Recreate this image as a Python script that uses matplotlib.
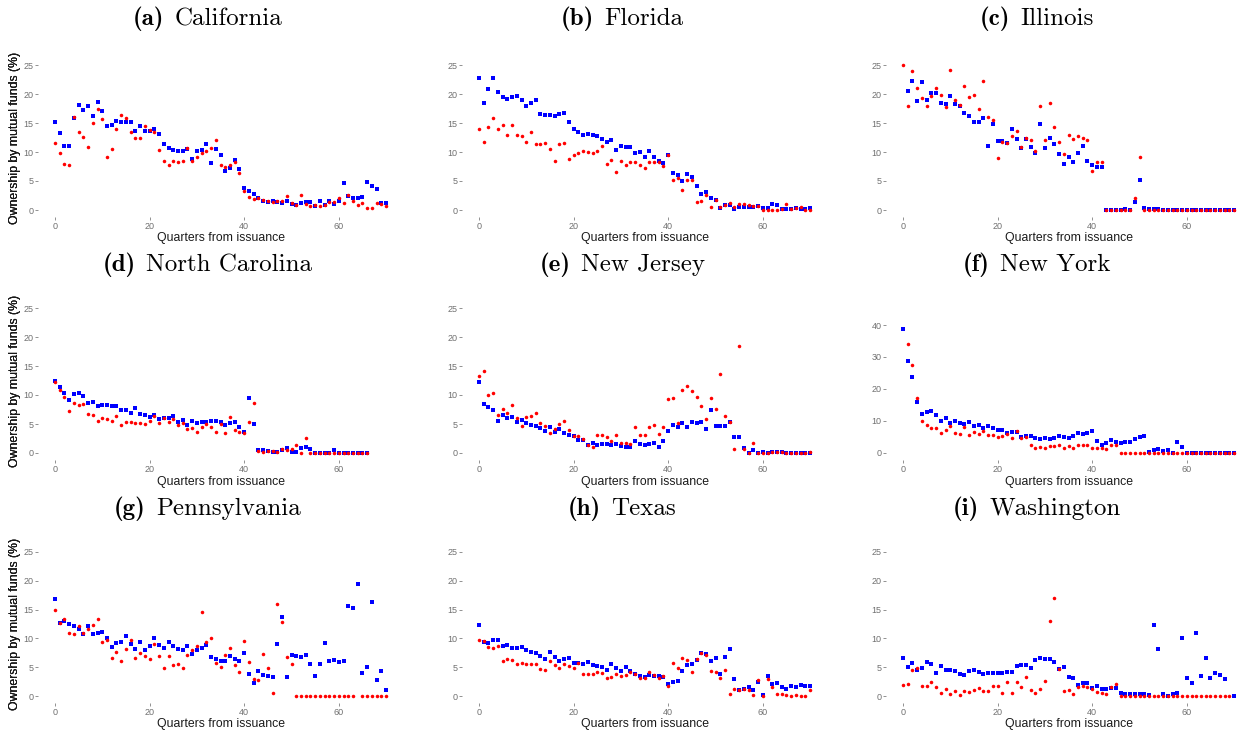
import matplotlib
matplotlib.use('Agg')
import matplotlib.pyplot as plt
import numpy as np

nan = np.nan

##########################################
#Data: ownership by mutual funds (%) per quarter from issuance (0-70)
quarters = np.arange(71)

ca_blue = [15.1, 13.2, 11.0, 11.1, 15.8, 18.1, 17.3, 18.0, 16.2, 18.6,
           17.1, 14.5, 14.6, 15.3, 15.1, 15.1, 15.1, 13.6, 14.4, 13.6,
           13.7, 13.9, 13.1, 11.3, 10.7, 10.3, 10.1, 10.1, 10.6, 8.8,
           10.1, 10.3, 11.3, 8.1, 10.5, 9.5, 6.7, 7.2, 8.6, 7.0,
           3.8, 3.3, 2.8, 2.0, 1.6, 1.4, 1.5, 1.3, 1.2, 1.6,
           1.0, 0.9, 1.2, 1.3, 1.3, 0.7, 1.5, 0.9, 1.5, 1.1,
           1.6, 4.7, 2.4, 2.1, 2.0, 2.2, 4.9, 4.1, 3.7, 1.2,
           1.2]
ca_red = [11.5, 9.8, 8.0, 7.8, 16.0, 13.4, 12.6, 10.9, 15.0, 17.4,
          15.7, 9.2, 10.6, 13.9, 16.3, 15.8, 13.4, 12.4, 12.4, 14.5,
          13.8, 13.4, 10.4, 8.5, 7.7, 8.5, 8.2, 8.5, 10.7, 8.5,
          9.1, 9.8, 10.2, 10.7, 12.0, 7.8, 7.5, 7.8, 8.3, 6.4,
          3.3, 2.2, 1.9, 2.0, 1.8, 1.6, 1.4, 1.6, 1.5, 2.5,
          1.2, 0.8, 2.6, 1.0, 0.7, 0.9, 0.7, 0.8, 1.3, 1.3,
          2.1, 1.2, 2.6, 1.6, 0.8, 1.2, 0.4, 0.3, 1.2, 1.1,
          0.7]

fl_blue = [22.8, 18.4, 20.8, 22.7, 20.4, 19.4, 19.1, 19.5, 19.6, 18.9,
           18.0, 18.5, 18.9, 16.6, 16.4, 16.4, 16.2, 16.5, 16.7, 15.1,
           13.9, 13.5, 13.0, 13.1, 13.0, 12.8, 12.2, 11.7, 12.1, 10.4,
           11.0, 10.8, 10.8, 9.8, 10.0, 9.1, 10.2, 9.1, 8.4, 8.1,
           9.5, 6.3, 6.1, 5.0, 6.2, 5.7, 4.1, 2.8, 3.1, 2.1,
           1.8, 0.4, 0.8, 0.9, 0.2, 0.6, 0.5, 0.5, 0.6, 0.7,
           0.3, 0.4, 1.0, 0.8, 0.2, 0.2, 0.2, 0.3, 0.2, 0.2,
           0.3]
fl_red = [13.9, 11.8, 14.3, 15.8, 13.9, 14.6, 13.0, 14.6, 13.0, 12.7,
          11.7, 13.5, 11.4, 11.3, 11.6, 10.5, 8.5, 11.3, 11.6, 8.8,
          9.4, 9.8, 10.1, 10.0, 9.9, 10.2, 11.1, 7.9, 8.6, 6.5,
          8.4, 7.8, 8.3, 8.3, 7.8, 7.3, 8.2, 8.3, 8.2, 7.6,
          9.4, 5.1, 5.5, 3.5, 5.2, 5.2, 1.4, 1.6, 2.6, 0.6,
          1.8, 0.6, 0.9, 1.2, 0.6, 1.0, 1.0, 0.9, 0.7, 0.7,
          0.0, 0.0, 0.0, 0.0, 0.1, 1.0, 0.1, 0.4, 0.5, 0.0,
          0.0]

il_blue = [nan, 20.6, 22.3, 18.8, 22.0, 18.9, 20.1, 20.2, 18.4, 18.2,
           19.6, 18.3, 18.0, 16.7, 16.2, 15.2, 15.2, 15.9, 11.1, 14.9,
           11.9, 11.9, 11.5, 13.9, 12.2, 10.7, 12.2, 10.8, 9.8, 14.8,
           10.7, 12.5, 11.3, 9.6, 8.0, 9.2, 8.3, 9.8, 11.1, 8.4,
           7.8, 7.4, 7.4, 0.0, 0.0, 0.0, 0.0, 0.2, 0.0, 1.3,
           5.1, 0.4, 0.2, 0.2, 0.1, 0.0, 0.0, 0.0, 0.0, 0.0,
           0.0, 0.0, 0.0, 0.0, 0.0, 0.0, 0.0, 0.0, 0.0, 0.0,
           0.0]
il_red = [25.0, 17.9, 23.9, 21.0, 19.3, 17.9, 19.7, 21.1, 19.9, 17.8,
          24.1, 19.0, 18.1, 21.4, 19.5, 19.9, 17.5, 22.2, 16.1, 15.6,
          9.0, 11.8, 11.5, 12.8, 13.7, 10.9, 12.5, 12.1, 10.2, 17.9,
          12.1, 18.4, 14.3, 11.7, 9.6, 13.0, 12.2, 12.8, 12.4, 12.0,
          6.7, 8.3, 8.2, 0.0, 0.0, 0.0, 0.0, 0.0, 0.0, 2.0,
          9.2, 0.0, 0.0, 0.0, 0.0, 0.0, 0.0, 0.0, 0.0, 0.0,
          0.0, 0.0, 0.0, 0.0, 0.0, 0.0, 0.0, 0.0, 0.0, 0.0,
          0.0]

nc_blue = [12.5, 11.4, 10.3, 9.1, 10.1, 10.4, 9.9, 8.7, 8.8, 8.1,
           8.2, 8.3, 8.1, 8.1, 7.4, 7.5, 6.9, 7.8, 6.8, 6.5,
           6.2, 6.6, 5.8, 6.0, 6.0, 6.3, 5.4, 5.7, 4.8, 5.6,
           5.1, 5.3, 5.3, 5.6, 5.5, 5.4, 4.9, 5.1, 5.4, 4.5,
           3.6, 9.4, 5.0, 0.6, 0.5, 0.3, 0.1, 0.1, 0.5, 0.8,
           0.1, 0.2, 0.8, 1.1, 0.7, 0.0, 0.0, 0.0, 0.0, 0.5,
           0.0, 0.0, 0.0, 0.0, 0.0, 0.0, 0.0, nan, nan, nan,
           nan]
nc_red = [12.3, 10.8, 9.7, 7.2, 8.6, 8.3, 8.5, 6.8, 6.5, 5.6,
          6.0, 5.9, 5.6, 6.3, 4.9, 5.4, 5.3, 5.2, 5.2, 5.0,
          5.6, 6.4, 5.2, 6.0, 5.3, 5.8, 4.8, 5.1, 4.2, 4.3,
          3.6, 4.4, 5.0, 4.5, 3.7, 5.0, 3.4, 6.2, 3.9, 3.7,
          3.5, 5.4, 8.6, 0.3, 0.1, 0.3, 0.3, 0.2, 0.7, 0.5,
          0.7, 1.4, 0.0, 2.6, 0.0, 0.0, 0.0, 0.0, 0.0, 0.0,
          0.0, 0.0, 0.0, 0.0, 0.0, 0.0, 0.0, nan, nan, nan,
          nan]

nj_blue = [12.3, 8.5, 8.0, 7.5, 5.6, 6.6, 6.1, 6.2, 5.4, 5.7,
           5.1, 4.9, 4.6, 4.3, 3.8, 4.4, 3.6, 4.1, 3.5, 3.1,
           3.0, 2.2, 2.3, 1.4, 1.7, 1.4, 1.5, 1.5, 1.3, 1.5,
           1.2, 1.1, 1.0, 2.1, 1.6, 1.4, 1.6, 1.8, 1.0, 2.1,
           3.8, 4.9, 4.5, 5.1, 4.5, 5.4, 5.1, 5.4, 4.1, 7.5,
           4.6, 4.7, 4.7, 5.3, 2.8, 2.8, 0.9, 0.0, 0.6, 0.0,
           0.2, 0.0, 0.1, 0.1, 0.2, 0.0, 0.0, 0.0, 0.0, 0.0,
           0.0]
nj_red = [13.3, 14.2, 10.0, 10.4, 6.5, 7.6, 6.9, 8.3, 6.1, 4.6,
          6.2, 6.3, 6.9, 5.1, 4.6, 3.4, 4.1, 5.0, 5.5, 4.0,
          3.0, 3.0, 2.5, 1.4, 1.0, 3.1, 3.1, 2.8, 2.0, 3.1,
          1.8, 1.8, 1.5, 4.4, 3.1, 3.1, 4.5, 4.8, 3.2, 4.5,
          9.3, 9.4, 5.1, 10.8, 11.5, 10.7, 9.7, 8.1, 5.9, 9.4,
          7.6, 13.6, 6.3, 5.3, 0.7, 18.4, 0.7, 0.0, 1.7, 0.0,
          0.0, 0.0, 0.1, 0.1, 0.1, 0.0, 0.0, 0.0, 0.0, 0.0,
          0.1]

ny_blue = [38.6, 28.7, 23.7, 15.9, 12.2, 12.7, 13.0, 11.9, 9.9, 10.9,
           9.5, 10.0, 9.5, 9.0, 9.7, 8.5, 8.8, 7.9, 8.4, 7.8,
           7.3, 7.3, 6.4, 6.6, 6.7, 4.9, 5.3, 5.2, 4.6, 4.5,
           4.6, 4.3, 4.7, 5.3, 4.9, 4.8, 5.3, 6.2, 5.8, 6.3,
           6.9, 3.9, 2.4, 3.0, 4.1, 3.5, 3.2, 3.5, 3.5, 4.4,
           5.0, 5.3, 0.4, 0.8, 1.3, 0.7, 1.0, 0.0, 3.5, 2.0,
           0.0, 0.0, 0.0, 0.0, 0.0, 0.0, 0.0, 0.0, 0.0, 0.0,
           0.0]
ny_red = [nan, 34.0, 27.4, 17.2, 10.0, 8.8, 7.8, 7.8, 6.3, 7.1,
          8.5, 6.1, 5.9, 8.0, 5.7, 6.7, 5.9, 6.9, 5.5, 5.5,
          4.9, 5.2, 5.8, 4.6, 6.9, 4.8, 5.1, 2.4, 1.5, 2.0,
          1.5, 2.2, 2.3, 2.4, 1.7, 2.1, 1.6, 2.5, 2.5, 2.4,
          1.7, 1.7, 1.6, 1.2, 2.5, 2.4, 0.0, 0.0, 0.0, 0.0,
          0.0, 0.0, 0.0, 0.0, 0.0, 0.0, 0.0, 0.0, 0.0, 0.0,
          0.0, 0.0, 0.0, 0.0, 0.0, 0.0, 0.0, 0.0, 0.0, 0.0,
          0.0]

pa_blue = [16.8, 12.6, 13.0, 12.5, 12.1, 11.6, 10.8, 12.2, 10.8, 10.9,
           11.1, 10.0, 8.5, 9.2, 9.4, 10.5, 9.1, 8.2, 9.3, 8.0,
           8.7, 10.1, 8.8, 8.4, 9.4, 8.6, 8.2, 7.9, 8.6, 7.3,
           7.9, 8.3, 8.9, 6.8, 6.5, 6.0, 6.1, 7.0, 6.5, 6.0,
           7.4, 3.9, 2.3, 4.3, 3.7, 3.4, 3.3, 9.1, 13.8, 3.3,
           7.1, 7.0, 6.8, 7.2, 5.5, 3.4, 5.6, 9.2, 6.0, 6.2,
           5.9, 6.0, 15.6, 15.2, 19.5, 4.0, 5.1, 16.3, 2.7, 4.4,
           1.0]
pa_red = [14.9, 12.6, 13.4, 10.9, 10.8, 12.2, 11.0, 11.7, 12.3, 13.4,
          9.4, 9.8, 6.6, 7.6, 6.0, 8.2, 9.7, 6.6, 7.4, 6.9,
          6.5, 9.0, 6.9, 4.9, 7.0, 5.4, 5.6, 4.8, 7.1, 8.0,
          8.7, 14.6, 9.3, 10.0, 5.8, 5.0, 7.1, 8.4, 5.3, 4.2,
          9.6, 5.9, 3.0, 2.7, 7.3, 4.8, 0.6, 15.9, 12.8, 6.7,
          5.6, 0.0, 0.0, 0.0, 0.0, 0.0, 0.0, 0.0, 0.0, 0.0,
          0.0, 0.0, 0.0, 0.0, nan, 0.0, 0.0, 0.0, 0.0, 0.0,
          0.0]

tx_blue = [12.4, 9.3, 9.2, 9.7, 9.7, 8.7, 8.8, 8.4, 8.4, 8.5,
           7.9, 7.7, 7.4, 6.9, 6.4, 7.6, 6.7, 6.0, 6.5, 6.6,
           5.7, 5.7, 5.6, 5.9, 5.3, 5.2, 5.0, 4.6, 5.6, 4.9,
           4.3, 5.0, 4.4, 3.8, 3.4, 3.3, 3.6, 3.5, 3.4, 3.3,
           2.0, 2.5, 2.6, 4.3, 5.4, 5.5, 6.2, 7.5, 7.3, 6.0,
           6.6, 3.8, 6.7, 8.1, 2.9, 1.0, 1.2, 1.5, 1.0, 2.4,
           0.2, 3.5, 2.1, 2.2, 1.5, 1.2, 1.7, 1.6, 1.9, 1.8,
           1.8]
tx_red = [9.8, 9.5, 8.5, 8.3, 8.6, 6.1, 6.4, 6.2, 5.6, 5.8,
          5.6, 5.5, 5.6, 4.7, 4.6, 6.1, 5.4, 4.8, 5.5, 5.2,
          4.8, 5.8, 3.8, 3.9, 3.8, 4.2, 4.0, 3.2, 3.3, 3.8,
          3.4, 3.7, 4.1, 3.9, 3.1, 3.1, 4.2, 3.7, 3.1, 3.4,
          1.7, 5.7, 4.8, 6.6, 6.2, 4.1, 6.4, 7.4, 7.1, 4.4,
          4.1, 3.1, 4.5, 0.3, 1.3, 1.1, 1.3, 1.1, 0.2, 2.8,
          0.0, 2.9, 1.5, 0.3, 0.3, 0.2, 0.0, 0.2, 0.0, 0.0,
          1.0]

wa_blue = [6.6, 5.1, 5.7, 4.6, 4.8, 5.9, 5.5, 4.0, 5.2, 4.5,
           4.6, 4.3, 3.9, 3.6, 4.3, 4.6, 4.2, 3.8, 4.0, 4.0,
           4.0, 4.0, 4.2, 4.1, 5.2, 5.4, 5.3, 4.8, 6.2, 6.6,
           6.4, 6.4, 5.9, 4.7, 5.1, 3.3, 3.2, 1.9, 2.3, 2.2,
           1.4, 1.8, 1.2, 1.2, 1.4, 1.4, 0.5, 0.4, 0.3, 0.3,
           0.3, 0.3, 0.2, 12.3, 8.2, 0.3, 0.0, 0.3, 0.6, 10.0,
           3.1, 2.3, 10.9, 3.5, 6.6, 3.2, 4.0, 3.6, 3.0, nan,
           0.0]
wa_red = [1.9, 2.1, 4.5, 4.9, 1.8, 1.8, 2.4, 1.6, 0.6, 1.2,
          0.3, 0.8, 0.2, 0.9, 0.7, 1.1, 1.4, 0.9, 0.9, 1.8,
          1.7, 0.5, 2.4, 0.5, 2.5, 1.6, 3.3, 1.1, 0.5, 1.2,
          2.6, 13.1, 17.1, 4.7, 0.8, 1.1, 0.4, 1.6, 1.8, 1.5,
          1.3, 0.7, 0.6, 0.3, 1.5, 2.0, 0.0, 0.0, 0.0, 0.0,
          0.0, 0.0, 0.0, 0.0, 0.0, 0.0, 0.0, 0.0, 0.0, 0.0,
          0.0, 0.0, 0.0, 0.0, 0.0, 0.0, 0.0, 0.0, 0.0, 0.0,
          nan]

letters = ['a', 'b', 'c', 'd', 'e', 'f', 'g', 'h', 'i']
states = ['California', 'Florida', 'Illinois', 'North Carolina', 'New Jersey',
          'New York', 'Pennsylvania', 'Texas', 'Washington']
blue_series = [ca_blue, fl_blue, il_blue, nc_blue, nj_blue, ny_blue, pa_blue, tx_blue, wa_blue]
red_series = [ca_red, fl_red, il_red, nc_red, nj_red, ny_red, pa_red, tx_red, wa_red]

##########################################
#Layout (pixels of a 1244x734 canvas)
W, H = 1244., 734.
x_zero = [55., 479., 903.]      #pixel of quarter 0 in each column
px_per_q = 4.73
row_box = [(57.75, 217.25), (300.75, 460.25), (544.8, 703.2)]  #top, bottom
col_centre = [207.5, 622., 1036.5]
title_y = [19., 265., 509.]
title_size = 18

plt.rcParams['font.family'] = ['Liberation Sans', 'DejaVu Sans']

fig = plt.figure(figsize=(W / 100, H / 100), dpi=100)
titles = []

for i in range(9):
	r, c = divmod(i, 3)
	left = x_zero[c] - 3.5 * px_per_q
	width = 77 * px_per_q
	top, bottom = row_box[r]
	ax = fig.add_axes([left / W, 1 - bottom / H, width / W, (bottom - top) / H])

	ax.scatter(quarters, blue_series[i], marker='s', s=6.5, color='#0000FF', linewidths=0, zorder=2)
	ax.scatter(quarters, red_series[i], marker='o', s=6.5, color='#FF0000', linewidths=0, zorder=3)

	ax.set_xlim(-3.5, 73.5)
	ax.set_xticks([0, 20, 40, 60])
	if states[i] == 'New York':
		ax.set_ylim(-2.27, 47.58)
		ax.set_yticks([0, 10, 20, 30, 40])
	else:
		ax.set_ylim(-1.25, 26.25)
		ax.set_yticks([0, 5, 10, 15, 20, 25])

	for sp in ax.spines.values():
		sp.set_visible(False)
	ax.tick_params(length=2, width=0.5, color='#666666', labelsize=6.5, labelcolor='#707070', pad=1.5)

	ax.set_xlabel('Quarters from issuance', fontsize=8.8, color='#1A1A1A', labelpad=1)
	ax.set_ylabel('Ownership by mutual funds (%)', fontsize=8.8, color='#1A1A1A')
	ax.yaxis.set_label_coords((21. - left) / width, 0.5)

	#Sub-caption: bold letter + roman state name
	t_bold = fig.text(0, 1 - title_y[r] / H, '(' + letters[i] + ')', fontfamily='cmb10',
		fontsize=title_size, ha='left', va='center')
	t_name = fig.text(0, 1 - title_y[r] / H, states[i], fontfamily='cmr10',
		fontsize=title_size, ha='left', va='center')
	titles.append((c, t_bold, t_name))

#Centre the two-part titles over each column
renderer = fig.canvas.get_renderer()
gap = 0.42 * title_size * 100 / 72.
for c, t_bold, t_name in titles:
	w1 = t_bold.get_window_extent(renderer).width
	w2 = t_name.get_window_extent(renderer).width
	x0 = col_centre[c] - (w1 + gap + w2) / 2
	t_bold.set_x(x0 / W)
	t_name.set_x((x0 + w1 + gap) / W)

plt.savefig('out.png', dpi=100)
